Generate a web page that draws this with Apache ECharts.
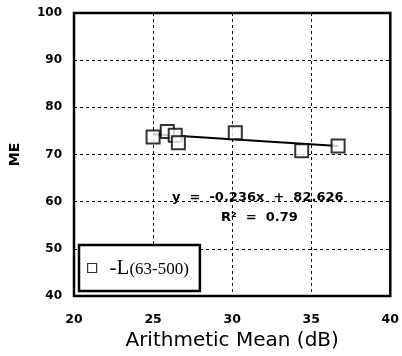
<!DOCTYPE html>
<html><head><meta charset="utf-8">
<script src="https://cdn.jsdelivr.net/npm/echarts@6/dist/echarts.min.js"></script>
<style>html,body{margin:0;padding:0;background:#fff}#c{width:402px;height:356px}</style>
</head><body><div id="c"></div>
<script>
var xValues = [25.0, 25.9, 26.4, 26.6, 30.2, 34.4, 36.7];
var yValues = [73.7, 74.9, 74.1, 72.5, 74.6, 70.8, 71.8];
var trendX = [25.0, 36.7];
var trendY = [74.3, 71.8];
var equationText = 'y  =  -0.236x  +  82.626';
var r2Text = 'R²  =  0.79';
var seriesName = '-L(63-500)';

var chart = echarts.init(document.getElementById('c'));
var font = 'DejaVu Sans, sans-serif';
var serif = 'Liberation Serif, Times New Roman, serif';
chart.setOption({
  animation: false,
  grid: {left: 74, right: 10, top: 13, bottom: 57, show: true, borderColor: '#000', borderWidth: 2.5, backgroundColor: 'transparent'},
  xAxis: {
    type: 'value', min: 20, max: 40, interval: 5,
    name: 'Arithmetic Mean (dB)', nameLocation: 'middle', nameGap: 33,
    nameTextStyle: {fontFamily: font, fontSize: 20, color: '#000'},
    axisLine: {show: false}, axisTick: {show: false},
    axisLabel: {fontFamily: font, fontSize: 12.5, color: '#000', fontWeight: 'bold', margin: 17},
    splitLine: {show: true, lineStyle: {color: '#000', type: [3, 3], width: 1}}
  },
  yAxis: {
    type: 'value', min: 40, max: 100, interval: 10,
    name: 'ME', nameLocation: 'middle', nameGap: 52,
    nameTextStyle: {fontFamily: font, fontSize: 14, color: '#000', fontWeight: 'bold'},
    axisLine: {show: false}, axisTick: {show: false},
    axisLabel: {fontFamily: font, fontSize: 12, color: '#000', fontWeight: 'bold', margin: 12},
    splitLine: {show: true, lineStyle: {color: '#000', type: [3, 3], width: 1}}
  },
  legend: {
    left: 79, top: 245,
    padding: [11, 11, 11, 8],
    backgroundColor: '#fff', borderColor: '#000', borderWidth: 2.5,
    itemWidth: 9, itemHeight: 9,
    data: [{name: seriesName, icon: 'rect', itemStyle: {color: '#fff', borderColor: '#000', borderWidth: 1.2}}],
    formatter: function () { return '{a|-L}{b|(63-500)}'; },
    textStyle: {
      lineHeight: 24,
      rich: {
        a: {fontFamily: serif, fontSize: 21, color: '#000', padding: [0, 0, 0, 8], lineHeight: 24},
        b: {fontFamily: serif, fontSize: 17, color: '#000', lineHeight: 24, padding: [3, 0, 0, 0]}
      }
    }
  },
  series: [
    {
      name: 'trend', type: 'line', data: trendX.map(function (x, i) { return [x, trendY[i]]; }),
      symbol: 'none', lineStyle: {color: '#000', width: 2}, z: 2, silent: true
    },
    {
      name: seriesName, type: 'scatter', symbol: 'rect', symbolSize: 13,
      data: xValues.map(function (x, i) { return [x, yValues[i]]; }),
      itemStyle: {color: '#fff', borderColor: '#000', borderWidth: 2}, z: 3
    }
  ],
  graphic: [
    {type: 'text', x: 172, y: 198, style: {text: equationText, font: 'bold 13px ' + font, fill: '#000', verticalAlign: 'middle'}},
    {type: 'text', x: 221, y: 218, style: {text: r2Text, font: 'bold 13px ' + font, fill: '#000', verticalAlign: 'middle'}}
  ]
});
</script></body></html>
